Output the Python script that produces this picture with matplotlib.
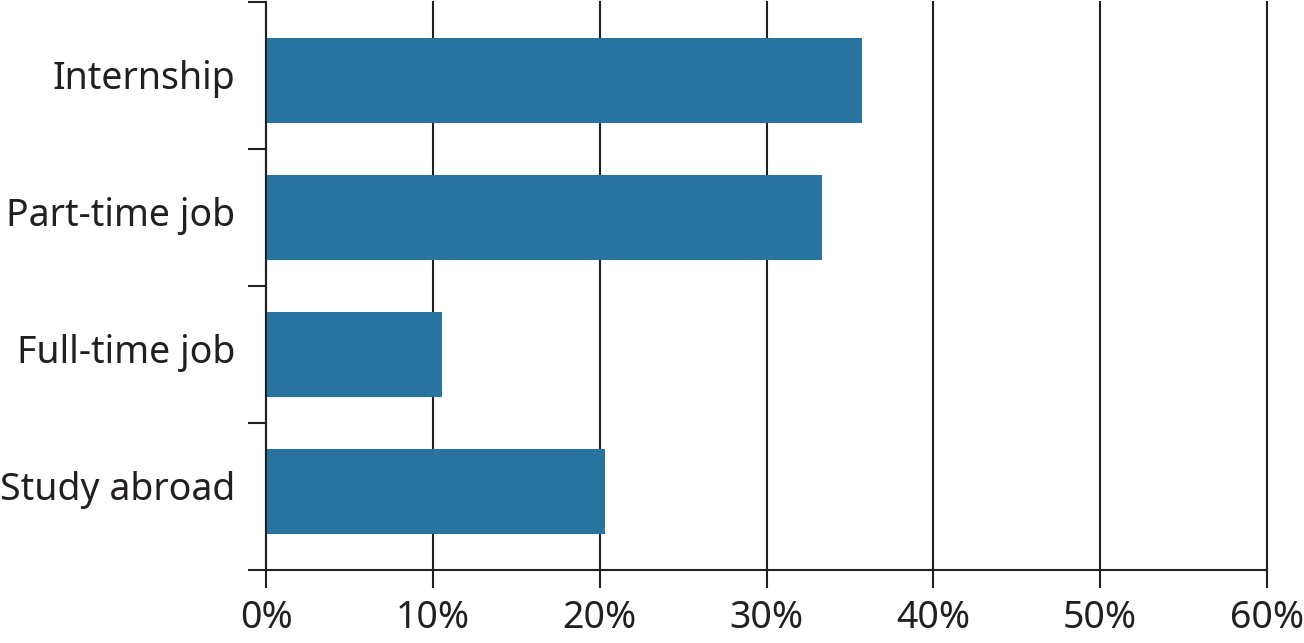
import numpy as np
import matplotlib.pyplot as plt

plt.rcParams['font.family'] = ['Noto Sans', 'DejaVu Sans']

categories = ['Internship', 'Part-time job', 'Full-time job', 'Study abroad']
values = [35.7, 33.3, 10.55, 20.3]
xticks = [0, 10, 20, 30, 40, 50, 60]
xtick_labels = ['0%', '10%', '20%', '30%', '40%', '50%', '60%']

bar_color = '#26749f'
ink = '#231f20'

fig = plt.figure(figsize=(13.04, 6.43), dpi=100)
ax = fig.add_axes([266 / 1304, 1 - 570 / 643, (1267 - 266) / 1304, 568 / 643])

y = np.arange(len(categories))
ax.barh(y, values, height=0.62, color=bar_color, zorder=2)

extra = 10 / 137
ax.set_ylim(len(categories) - 0.5 + extra, -0.5 - extra)
ax.set_xlim(0, 60)

# vertical grid
for xv in xticks:
    ax.axvline(xv, color=ink, lw=1.5, zorder=1, clip_on=False)

for s in ['top', 'right']:
    ax.spines[s].set_visible(False)
for s in ['left', 'bottom']:
    ax.spines[s].set_color(ink)
    ax.spines[s].set_linewidth(1.5)

ax.set_xticks(xticks)
ax.set_xticklabels(xtick_labels)
ax.tick_params(axis='x', length=13, width=1.5, color=ink, labelsize=27,
               labelcolor=ink, pad=8)

# category boundaries as major ticks, labels as minor ticks
ylo, yhi = ax.get_ylim()
ax.set_yticks([yhi, 0.5, 1.5, 2.5, ylo])
ax.set_yticklabels([])
ax.tick_params(axis='y', which='major', length=13, width=1.5, color=ink)
ax.set_yticks(y - 0.045, minor=True)
ax.set_yticklabels(categories, minor=True)
ax.tick_params(axis='y', which='minor', length=0, labelsize=27,
               labelcolor=ink, pad=22)

fig.savefig('out.png', dpi=100)
